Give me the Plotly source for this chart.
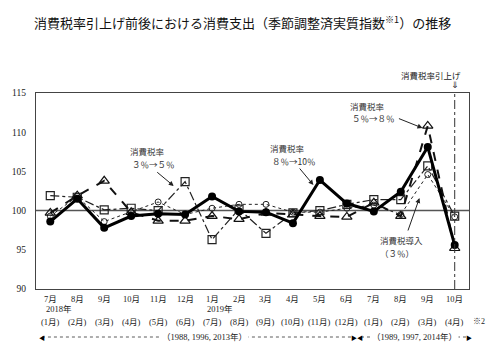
import plotly.graph_objects as go

# ---- data ----
months = ["7月", "8月", "9月", "10月", "11月", "12月", "1月", "2月", "3月", "4月",
          "5月", "6月", "7月", "8月", "9月", "10月"]
year_labels = {0: "2018年", 6: "2019年"}
old_months = ["(1月)", "(2月)", "(3月)", "(4月)", "(5月)", "(6月)", "(7月)", "(8月)",
              "(9月)", "(10月)", "(11月)", "(12月)", "(1月)", "(2月)", "(3月)", "(4月)"]
yticks = [90, 95, 100, 105, 110, 115]

intro_3pct = [99.3, 101.8, 98.6, 99.8, 101.1, 99.5, 100.3, 100.8, 100.8, 99.8,
              99.8, 100.3, 100.7, 99.5, 104.6, 99.2]          # 1989 (dotted, open circle)
rise_3to5 = [101.9, 101.7, 100.1, 100.3, 100.0, 103.7, 96.3, 100.2, 97.1, 99.7,
             100.0, 100.8, 101.4, 101.4, 105.7, 99.3]          # 1997 (dash-dot, square)
rise_5to8 = [99.7, 101.9, 103.8, 99.8, 98.7, 98.7, 99.3, 98.9, 99.7, 99.5,
             99.3, 99.2, 101.0, 99.3, 110.8, 95.2]             # 2014 (dashed, triangle)
rise_8to10 = [98.6, 101.5, 97.8, 99.3, 99.6, 99.5, 101.8, 99.9, 99.8, 98.4,
              103.9, 100.9, 99.9, 102.4, 108.1, 95.6]          # 2019 (solid, filled circle)

x = list(range(len(months)))

# ---- layout geometry helpers (pixel -> paper) ----
L, R, T, B = 32, 31, 93, 74
W = 500 - L - R
H = 363 - T - B


def PX(px):
    return (px - L) / W


def PY(py):
    return (363 - B - py) / H


serif = "Liberation Serif, Noto Sans CJK JP"
sans = "Noto Sans CJK JP"

fig = go.Figure()

fig.add_trace(go.Scatter(
    x=x, y=intro_3pct, mode="lines+markers",
    line=dict(color="#222", width=1, dash="dot"),
    marker=dict(symbol="circle-open", size=6, color="#222", line=dict(width=1)),
    name="消費税導入（３％）"))
fig.add_trace(go.Scatter(
    x=x, y=rise_3to5, mode="lines+markers",
    line=dict(color="#222", width=1.2, dash="dashdot"),
    marker=dict(symbol="square-open", size=8, color="#222", line=dict(width=1.2)),
    name="３％→５％"))
fig.add_trace(go.Scatter(
    x=x, y=rise_5to8, mode="lines+markers",
    line=dict(color="#111", width=2, dash="dash"),
    marker=dict(symbol="triangle-up-open", size=9, color="#111", line=dict(width=1.2)),
    name="５％→８％"))
fig.add_trace(go.Scatter(
    x=x, y=rise_8to10, mode="lines+markers",
    line=dict(color="#000", width=3),
    marker=dict(symbol="circle", size=8, color="#000"),
    name="８％→10％"))

shapes = [
    # 100 baseline
    dict(type="line", xref="paper", yref="y", x0=0, x1=1, y0=100, y1=100,
         line=dict(color="#555", width=1.5), layer="below"),
    # tax-rise vertical marker at Oct
    dict(type="line", xref="x", yref="paper", x0=15, x1=15, y0=0, y1=PY(91),
         line=dict(color="#333", width=1, dash="dashdot")),
    # bottom period dotted lines
    dict(type="line", xref="paper", yref="paper", x0=PX(38), x1=PX(353), y0=PY(337), y1=PY(337),
         line=dict(color="#333", width=0.8, dash="dot")),
    dict(type="line", xref="paper", yref="paper", x0=PX(360), x1=PX(467), y0=PY(337), y1=PY(337),
         line=dict(color="#333", width=0.8, dash="dot")),
]

ann = []
# title
ann.append(dict(xref="paper", yref="paper", x=PX(28), y=PY(22), xanchor="left", yanchor="middle",
                text="消費税率引上げ前後における消費支出（季節調整済実質指数<sup>※1</sup>）の推移",
                showarrow=False, font=dict(family=sans, size=13, color="#111")))
# top-right marker text
ann.append(dict(xref="paper", yref="paper", x=PX(431), y=PY(75), xanchor="center", yanchor="middle",
                text="消費税率引上げ", showarrow=False, font=dict(family=sans, size=8.5, color="#222")))
ann.append(dict(xref="x", yref="paper", x=15, y=PY(85), xanchor="center", yanchor="middle",
                text="⇓", showarrow=False, font=dict(family="DejaVu Sans", size=9, color="#222")))

# month labels, years, old months
for i, m in enumerate(months):
    ann.append(dict(xref="x", yref="paper", x=i, y=PY(299), xanchor="center", yanchor="middle",
                    text=m, showarrow=False, font=dict(family=serif, size=8.5, color="#222")))
    ann.append(dict(xref="x", yref="paper", x=i, y=PY(322), xanchor="center", yanchor="middle",
                    text=old_months[i], showarrow=False, font=dict(family=serif, size=8.5, color="#222")))
for i, yl in year_labels.items():
    ann.append(dict(xref="x", yref="paper", x=i - 0.25, y=PY(309), xanchor="left", yanchor="middle",
                    text=yl, showarrow=False, font=dict(family=serif, size=8.5, color="#222")))

ann.append(dict(xref="paper", yref="paper", x=PX(479), y=PY(321), xanchor="center", yanchor="middle",
                text="※2", showarrow=False, font=dict(family=serif, size=8, color="#222")))

# period row
ann.append(dict(xref="paper", yref="paper", x=PX(202), y=PY(337), xanchor="center", yanchor="middle",
                text="（1988, 1996, 2013年）", showarrow=False, bgcolor="white",
                font=dict(family=serif, size=8.5, color="#222")))
ann.append(dict(xref="paper", yref="paper", x=PX(414), y=PY(337), xanchor="center", yanchor="middle",
                text="（1989, 1997, 2014年）", showarrow=False, bgcolor="white",
                font=dict(family=serif, size=8.5, color="#222")))
for px_, t in [(38, "◀"), (356, "▶◀"), (469, "▶")]:
    ann.append(dict(xref="paper", yref="paper", x=PX(px_), y=PY(337), xanchor="center", yanchor="middle",
                    text=t, showarrow=False, font=dict(family=sans, size=6, color="#000")))

# series call-out texts
def label(px_, py_, txt):
    ann.append(dict(xref="paper", yref="paper", x=PX(px_), y=PY(py_), xanchor="left", yanchor="middle",
                    text=txt, showarrow=False, align="left",
                    font=dict(family=sans, size=8.5, color="#333")))


label(125, 151, "消費税率")
label(127, 164, "３％→５％")
label(266, 148, "消費税率")
label(268, 161, "８％→10％")
label(347, 106, "消費税率")
label(349, 118, "５％→８％")
label(377, 240, "消費税導入")
label(377, 253, "（３％）")


# arrows (head pixel, tail pixel)
def arrow(hx, hy, tx, ty):
    ann.append(dict(xref="paper", yref="paper", x=PX(hx), y=PY(hy), ax=tx - hx, ay=ty - hy,
                    axref="pixel", ayref="pixel", text="", showarrow=True,
                    arrowhead=2, arrowsize=1, arrowwidth=1, arrowcolor="#222"))


arrow(171, 186, 153, 171)
arrow(312, 185, 297, 167)
arrow(422, 128, 397, 118)
arrow(419, 198, 407, 232)

fig.update_layout(
    width=500, height=363,
    margin=dict(l=L, r=R, t=T, b=B),
    paper_bgcolor="white", plot_bgcolor="white",
    showlegend=False,
    shapes=shapes, annotations=ann,
    xaxis=dict(range=[-0.53, 15.53], showticklabels=False, showgrid=False, zeroline=False,
               showline=True, mirror=True, linecolor="#444", linewidth=1.2, ticks=""),
    yaxis=dict(range=[90, 115], tickvals=yticks, showgrid=False, zeroline=False,
               showline=True, mirror=True, linecolor="#444", linewidth=1.2, ticks="",
               ticklabelstandoff=7, tickfont=dict(family=serif, size=9.5, color="#222")),
)

fig.write_html("out.html", config={"displayModeBar": False},
               post_script="document.body.style.margin='0';document.body.style.padding='0';")
